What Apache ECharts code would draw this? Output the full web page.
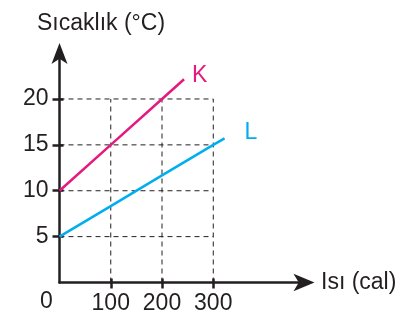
<!DOCTYPE html>
<html>
<head>
<meta charset="utf-8">
<script src="https://cdn.jsdelivr.net/npm/echarts@6/dist/echarts.min.js"></script>
<style>
  html, body { margin: 0; padding: 0; background: #fff; }
  #chart { width: 414px; height: 330px; }
</style>
</head>
<body>
<div id="chart"></div>
<script>
// Heat (cal) on x, temperature (°C) on y
var xTicks = [100, 200, 300];
var yTicks = [5, 10, 15, 20];
var seriesK = [[0, 10], [100, 15], [200, 20], [243, 22.15]];
var seriesL = [[0, 5], [100, 8.33], [200, 11.67], [300, 15], [322, 15.7]];
var xName = 'Isı (cal)';
var yName = 'Sıcaklık (°C)';
var originLabel = '0';

var ink = '#231f20';
var font = 'Liberation Sans, Arial, sans-serif';
var xGridEnd = xTicks[xTicks.length - 1];
var yGridEnd = yTicks[yTicks.length - 1];

// dashed guide lines: horizontals up to the last x tick, verticals up to the last y tick
var dash = { color: ink, width: 1, type: [5, 4] };
var guideSeries = [];
yTicks.forEach(function (v) {
  guideSeries.push({ type: 'line', data: [[0, v], [xGridEnd, v]], symbol: 'none', silent: true, lineStyle: dash, z: 1 });
});
xTicks.forEach(function (v) {
  guideSeries.push({ type: 'line', data: [[v, 0], [v, yGridEnd]], symbol: 'none', silent: true, lineStyle: dash, z: 1 });
});

var chart = echarts.init(document.getElementById('chart'), null, { renderer: 'canvas' });
chart.setOption({
  animation: false,
  backgroundColor: '#fff',
  textStyle: { fontFamily: font, color: ink },
  title: [
    { text: yName, left: 37, top: 12, padding: 0,
      textStyle: { fontFamily: font, fontSize: 23, fontWeight: 'normal', color: ink } },
    { text: originLabel, left: 40, top: 290, padding: 0,
      textStyle: { fontFamily: font, fontSize: 23, fontWeight: 'normal', color: ink } }
  ],
  grid: { left: 59.5, right: 109.5, top: 53.1, bottom: 47.5, containLabel: false },
  xAxis: [{
    type: 'value', min: 0, max: 478,
    name: xName, nameLocation: 'end', nameGap: 16.5,
    nameTextStyle: { fontFamily: font, fontSize: 23, color: ink, verticalAlign: 'middle' },
    axisLine: { show: true, symbol: ['none', 'arrow'], symbolSize: [13, 21], symbolOffset: [0, 10],
      lineStyle: { color: ink, width: 2.5 } },
    axisTick: { show: true, customValues: xTicks, length: 6, lineStyle: { color: ink, width: 2.5 } },
    axisLabel: { show: true, customValues: xTicks, margin: 10, fontFamily: font, fontSize: 23, color: ink },
    splitLine: { show: false }
  }, {
    type: 'value', min: 0, max: 478, position: 'bottom',
    axisLine: { show: false },
    axisTick: { show: true, inside: true, customValues: xTicks, length: 4, lineStyle: { color: ink, width: 2.5 } },
    axisLabel: { show: false },
    splitLine: { show: false }
  }],
  yAxis: [{
    type: 'value', min: 0, max: 25,
    axisLine: { show: true, symbol: ['none', 'arrow'], symbolSize: [12, 21], symbolOffset: [0, 10],
      lineStyle: { color: ink, width: 2.5 } },
    axisTick: { show: true, customValues: yTicks, length: 7, lineStyle: { color: ink, width: 2.5 } },
    axisLabel: { show: true, customValues: yTicks, margin: 11, fontFamily: font, fontSize: 23, color: ink },
    splitLine: { show: false }
  }, {
    type: 'value', min: 0, max: 25, position: 'left',
    axisLine: { show: false },
    axisTick: { show: true, inside: true, customValues: yTicks, length: 4, lineStyle: { color: ink, width: 2.5 } },
    axisLabel: { show: false },
    splitLine: { show: false }
  }],
  series: guideSeries.concat([
    {
      name: 'K', type: 'line', data: seriesK, symbol: 'none', z: 5,
      lineStyle: { color: '#e6197f', width: 2.5 },
      endLabel: { show: true, formatter: '{a}', color: '#e6197f', fontFamily: font, fontSize: 23, offset: [0, -4] }
    },
    {
      name: 'L', type: 'line', data: seriesL, symbol: 'none', z: 5,
      lineStyle: { color: '#00aeef', width: 2.5 },
      endLabel: { show: true, formatter: '{a}', color: '#00aeef', fontFamily: font, fontSize: 23, offset: [12, -6] }
    }
  ])
});
</script>
</body>
</html>
